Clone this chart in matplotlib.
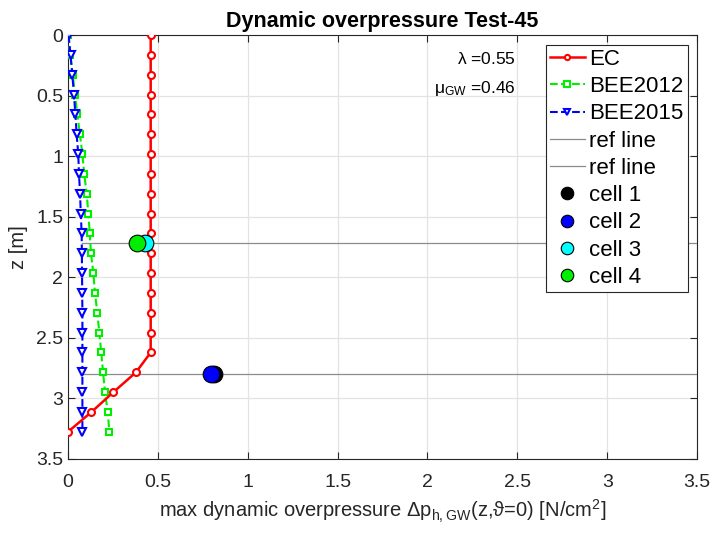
import numpy as np
import matplotlib
matplotlib.use('Agg')
import matplotlib.pyplot as plt

plt.rcParams['font.family'] = ['Liberation Sans', 'DejaVu Sans']
plt.rcParams['mathtext.default'] = 'regular'

# depth levels
z = [0.0, 0.164, 0.328, 0.491, 0.655, 0.819, 0.983, 1.147, 1.31, 1.474, 1.638,
     1.802, 1.966, 2.13, 2.293, 2.457, 2.621, 2.785, 2.949, 3.113, 3.276]

ec = [0.46, 0.46, 0.46, 0.46, 0.46, 0.46, 0.46, 0.46, 0.46, 0.46, 0.46,
      0.46, 0.46, 0.46, 0.46, 0.46, 0.46, 0.378, 0.252, 0.13, 0.0]
bee2012 = [0.0, 0.013, 0.026, 0.039, 0.052, 0.066, 0.08, 0.09, 0.104, 0.113, 0.121,
           0.128, 0.141, 0.15, 0.163, 0.174, 0.185, 0.195, 0.206, 0.221, 0.23]
bee2015 = [0.003, 0.014, 0.024, 0.033, 0.041, 0.048, 0.057, 0.061, 0.067, 0.071, 0.076,
           0.077, 0.078, 0.079, 0.08, 0.08, 0.08, 0.08, 0.08, 0.08, 0.08]

ref_z = [1.72, 2.80]
ref_x0 = 0.08
cell_x = [0.81, 0.795, 0.43, 0.385]
cell_z = [2.80, 2.80, 1.72, 1.72]
cell_colors = ['black', 'blue', 'cyan', '#00ee00']

fig = plt.figure(figsize=(7.13, 5.33), dpi=100)
ax = fig.add_axes([0.0954, 0.139, 0.8822, 0.795])

ax.plot(ec, z, '-o', color='red', lw=1.8, ms=5, mfc='white', mew=1.5, label='EC', zorder=5)
ax.plot(bee2012, z, '--s', color='#00ee00', lw=1.5, ms=5, mfc='white', mew=1.5,
        label='BEE2012', zorder=4)
ax.plot(bee2015, z, '--v', color='blue', lw=1.5, ms=6, mfc='white', mew=1.5,
        label='BEE2015', zorder=4)
for rz in ref_z:
    ax.plot([ref_x0, 3.5], [rz, rz], color='#8c8c8c', lw=0.9, label='ref line', zorder=3)
for i in range(4):
    ax.plot(cell_x[i], cell_z[i], 'o', color=cell_colors[i], mec='black', mew=0.8,
            ms=12, ls='none', label='cell %d' % (i + 1), zorder=6)

ax.text(2.49, 0.2, r'$\lambda$ =0.55', ha='right', va='center', fontsize=12.5)
ax.text(2.49, 0.44, r'$\mu_{GW}$ =0.46', ha='right', va='center', fontsize=12.5)

ax.set_xlim(0, 3.5)
ax.set_ylim(3.5, 0)
ticks = np.arange(0, 3.51, 0.5)
ax.set_xticks(ticks)
ax.set_yticks(ticks)
lbls = ['0', '0.5', '1', '1.5', '2', '2.5', '3', '3.5']
ax.set_xticklabels(lbls)
ax.set_yticklabels(lbls)
ax.tick_params(direction='in', top=True, right=True, labelsize=14, length=5,
               colors='#262626', labelcolor='#262626')
ax.tick_params(axis='x', pad=11)
ax.grid(True, color='#e3e3e3', lw=0.9)
ax.set_axisbelow(True)
for s in ax.spines.values():
    s.set_linewidth(0.8)
    s.set_color('#262626')

ax.set_title('Dynamic overpressure Test-45', fontsize=15.5, fontweight='bold', pad=6)
ax.set_xlabel(r'max dynamic overpressure $\Delta$p$_{h,GW}$(z,$\vartheta$=0) [N/cm$^2$]',
              fontsize=14.5, color='#262626', labelpad=5)
ax.set_ylabel('z [m]', fontsize=14.5, color='#262626', labelpad=6)

leg = ax.legend(loc='upper right', fontsize=16, fancybox=False, framealpha=1,
                edgecolor='#262626', borderpad=0.2, labelspacing=0.28,
                handlelength=1.55, handletextpad=0.2, borderaxespad=0.42,
                markerscale=0.75)
leg.get_frame().set_linewidth(0.8)

fig.savefig('out.png', dpi=100)
